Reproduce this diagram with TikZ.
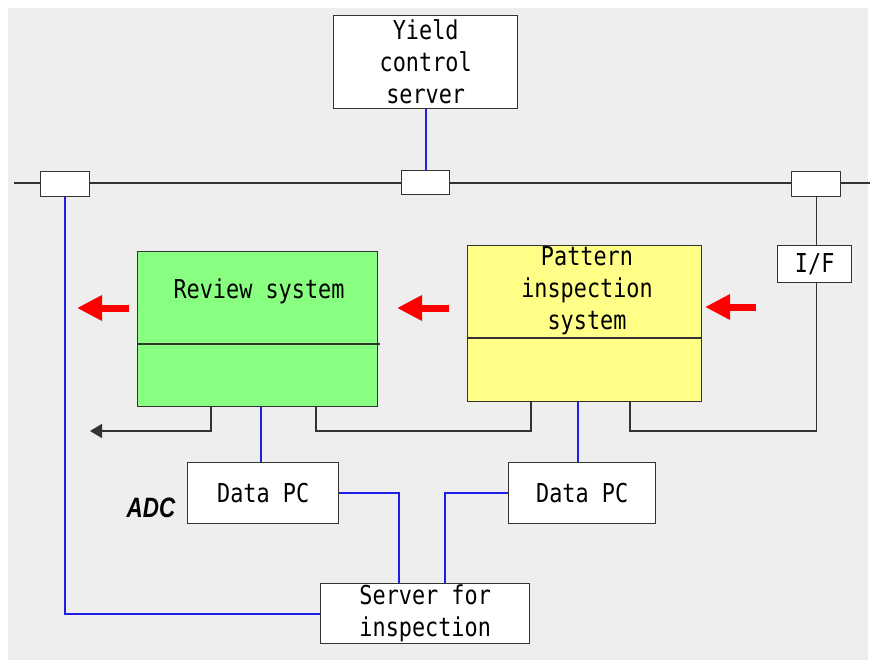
\documentclass[tikz,border=0pt]{standalone}
\usepackage{fontspec}
\usepackage{graphicx}
\usetikzlibrary{arrows.meta,calc}
\newfontfamily\gothic[FakeStretch=0.84]{DejaVu Sans Mono}
\newfontfamily\labelsans{Liberation Sans}
\definecolor{bggray}{HTML}{EEEEEE}
\definecolor{revgreen}{HTML}{88FF80}
\definecolor{insyellow}{HTML}{FFFF88}
\definecolor{edge}{HTML}{333333}
\definecolor{netblue}{HTML}{1E1EE6}
\tikzset{
  box/.style={draw=edge, line width=1.4pt, fill=white, inner sep=0pt, anchor=north west,
              align=center, font=\gothic\fontsize{26}{32}\selectfont},
  port/.style={draw=edge, line width=1.4pt, fill=white, inner sep=0pt, anchor=north west},
  blk/.style={draw=edge, line width=1.4pt},
  blu/.style={draw=netblue, line width=1.6pt},
  redarrow/.style={draw=red, line width=7pt, -{Triangle[length=25pt,width=24pt]}},
  txt/.style={font=\gothic\fontsize{26}{32}\selectfont, align=center, inner sep=0pt}
}
\begin{document}
\begin{tikzpicture}[x=1pt,y=-1pt]
  \useasboundingbox (0,0) rectangle (870,666);
  \fill[bggray] (8,8) rectangle (868,660);

  % network bus
  \coordinate (busL) at (14,183);
  \coordinate (busR) at (870,183);
  \draw[blk] (busL) -- (busR);

  % servers and interface boxes
  \node[box, minimum width=184pt, minimum height=93pt] (yield) at (333,15) {};
  \node[txt] at (yield.center) {Yield\\control\\server};
  \node[port, minimum width=49pt, minimum height=25pt] (portL) at (40,171) {};
  \node[port, minimum width=48pt, minimum height=24pt] (portM) at (401,170) {};
  \node[port, minimum width=49pt, minimum height=25pt] (portR) at (791,171) {};
  \node[box, minimum width=74pt, minimum height=37pt] (iface) at (777,245) {};
  \node[txt] at (iface.center) {I/F};

  % review system
  \node[box, fill=revgreen, minimum width=240pt, minimum height=155pt] (review) at (137,251) {};
  \draw[blk] (137,344) -- (380,344);
  \node[txt] at (259,291) {Review system};

  % pattern inspection system
  \node[box, fill=insyellow, minimum width=234pt, minimum height=156pt] (pattern) at (467,245) {};
  \draw[blk] (467,338) -- (701,338);
  \node[txt] at (587,291) {Pattern\\inspection\\system};

  % data PCs and inspection server
  \node[box, minimum width=151pt, minimum height=61pt] (pc1) at (187,462) {};
  \node[txt] at (pc1.center) {Data PC};
  \node[box, minimum width=147pt, minimum height=61pt] (pc2) at (508,462) {};
  \node[txt] at (pc2.center) {Data PC};
  \node[box, minimum width=209pt, minimum height=60pt] (server) at (320,583) {};
  \node[txt] at (server.center) {Server for\\inspection};

  \node[inner sep=0pt] (adc) at (151,508)
    {\scalebox{0.8}[1]{\labelsans\fontsize{28}{30}\selectfont\bfseries\itshape ADC}};

  % attachment points
  \coordinate (row) at (0,431);
  \path (review.south west) ++(74,0) coordinate (rA)
        ++(50,0) coordinate (rB) ++(55,0) coordinate (rC);
  \path (pattern.south west) ++(64,0) coordinate (pL)
        ++(47,0) coordinate (pM) ++(52,0) coordinate (pR);
  \path (server.north west) ++(79,0) coordinate (sA) ++(46,0) coordinate (sB);
  \coordinate (outEnd) at (90,431);

  % connectors
  \draw[blu] (yield.south) -- (portM.north);
  \draw[blu] (portL.south) |- (server.west);
  \draw[blk] (portR.south) -- (portR.south |- iface.north);
  \draw[blk] (portR.south |- iface.south) -- (portR.south |- row) -| (pR);
  \draw[blk, -{Triangle[length=12pt,width=14pt]}] (rA) |- (outEnd);
  \draw[blk] (rC) -- (rC |- row) -| (pL);
  \draw[blu] (rB) -- (rB |- pc1.north);
  \draw[blu] (pM) -- (pM |- pc2.north);
  \draw[blu] (pc1.east) -| (sA);
  \draw[blu] (pc2.west) -| (sB);

  % flow arrows
  \coordinate (a1s) at (129,308); \coordinate (a1e) at (77,308);
  \coordinate (a2s) at (449,308); \coordinate (a2e) at (397,308);
  \coordinate (a3s) at (756,307); \coordinate (a3e) at (705,307);
  \draw[redarrow] (a1s) -- (a1e);
  \draw[redarrow] (a2s) -- (a2e);
  \draw[redarrow] (a3s) -- (a3e);
\end{tikzpicture}
\end{document}
